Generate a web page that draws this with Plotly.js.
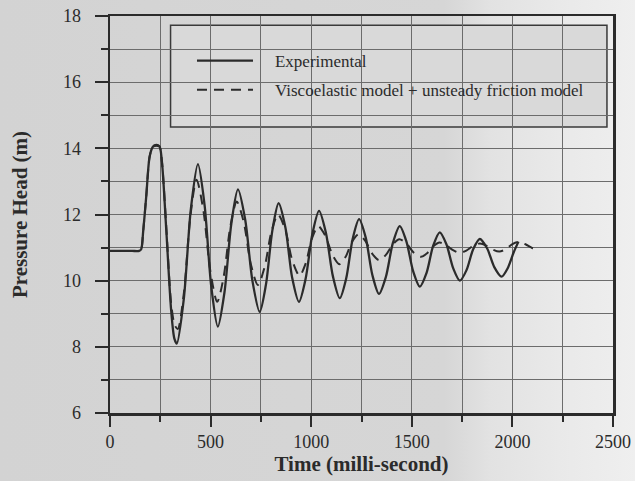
<!DOCTYPE html>
<html>
<head>
<meta charset="utf-8">
<script src="https://cdn.plot.ly/plotly-3.0.1.min.js"></script>
<style>
  html, body { margin:0; padding:0; }
  body { width:635px; height:481px; overflow:hidden;
    background: linear-gradient(to right, #d3d3d3 0%, #d6d6d6 70%, #e2e2e2 77%, #e9e9e9 88%, #efefef 100%); }
  #chart { width:635px; height:481px; }
</style>
</head>
<body>
<div id="chart"></div>
<script>
// Experimental measurement (time in ms, pressure head in m)
var timeExp = [0,60,110,145,155,165,180,197,213,230,246,258,280,304,320,332,
  367,402,437, 470,503,536, 569,603,636, 672,708,744, 775,807,838,
  872,905,939, 972,1006,1039, 1073,1108,1142, 1174,1206,1238,
  1271,1304,1337, 1371,1406,1440, 1473,1507,1540, 1573,1606,1639,
  1672,1706,1739, 1772,1805,1838, 1874,1910,1946, 1976,2006,2030];
var headExp = [10.9,10.9,10.9,10.9,10.95,11.5,12.54,13.75,14.05,14.1,14.06,13.6,11.5,9.1,8.25,8.1,
  9.46,12.17,13.52, 12.29,9.84,8.61, 9.65,11.72,12.76, 11.84,9.99,9.06, 9.88,11.52,12.34,
  11.6,10.1,9.36, 10.05,11.42,12.11, 11.45,10.13,9.47, 10.07,11.26,11.86,
  11.3,10.17,9.6, 10.11,11.14,11.65, 11.19,10.28,9.82, 10.23,11.05,11.46,
  11.1,10.37,10.0, 10.32,10.95,11.26, 10.98,10.41,10.12, 10.37,10.85,11.18];

// Viscoelastic model + unsteady friction model
var timeModel = [0,60,110,145,155,165,180,197,213,230,246,258,280,304,322,337,
  368,399,430, 464,499,533, 565,598,630, 665,700,735, 768,802,835,
  871,906,942, 973,1004,1035, 1070,1105,1140, 1172,1203,1235,
  1269,1303,1337, 1371,1405,1438, 1474,1509,1545, 1576,1607,1638,
  1671,1705,1738, 1771,1805,1838, 1870,1903,1935, 1967,1998,2030,
  2065,2100,2135];
var headModel = [10.9,10.9,10.9,10.9,10.95,11.5,12.54,13.75,14.05,14.08,14.05,13.6,11.6,9.3,8.65,8.54,
  9.67,11.92,13.05, 12.13,10.28,9.36, 10.12,11.63,12.39, 11.76,10.5,9.87, 10.4,11.47,12.0,
  11.54,10.61,10.15, 10.53,11.28,11.65, 11.36,10.79,10.5, 10.73,11.18,11.4,
  11.2,10.82,10.62, 10.78,11.09,11.25, 11.12,10.85,10.72, 10.83,11.04,11.15,
  11.07,10.92,10.84, 10.91,11.05,11.12, 11.06,10.94,10.88, 10.95,11.1,11.17,
  11.1,10.98,10.92];

var seriesNames = ['Experimental', 'Viscoelastic model + unsteady friction model'];
var xTitle = 'Time (milli-second)';
var yTitle = 'Pressure Head (m)';

var ink = '#2b2b2b';
var gridC = '#6c6c6c';
var serif = 'Liberation Serif, Times New Roman, serif';
var pad = '\u00a0\u00a0\u00a0\u00a0';

var traces = [
  { x: timeExp, y: headExp, name: pad + seriesNames[0], mode: 'lines', legendgroup: 'a',
    line: { color: ink, width: 2.3, shape: 'spline', smoothing: 0.8 } },
  { x: timeModel, y: headModel, name: pad + seriesNames[1], mode: 'lines', legendgroup: 'b',
    line: { color: ink, width: 2, dash: '10px,7px', shape: 'spline', smoothing: 0.8 } }
];

var layout = {
  width: 635, height: 481,
  margin: { l: 110, r: 22, t: 16, b: 68 },
  paper_bgcolor: 'rgba(0,0,0,0)', plot_bgcolor: 'rgba(0,0,0,0)',
  font: { family: serif, color: ink },
  showlegend: true,
  legend: { x: 0.163, y: 0.932, xanchor: 'left', yanchor: 'top',
    bgcolor: 'rgba(0,0,0,0)', borderwidth: 0, font: { size: 17, family: serif, color: ink },
    itemwidth: 56, tracegroupgap: 4 },
  xaxis: {
    range: [0, 2500], tick0: 0, dtick: 500,
    showgrid: true, gridcolor: gridC, gridwidth: 1, zeroline: false,
    ticks: 'outside', ticklen: 11, tickwidth: 2, tickcolor: ink,
    showline: true, linewidth: 2.5, linecolor: ink, mirror: true,
    tickfont: { size: 18, family: serif, color: ink },
    minor: { dtick: 250, showgrid: true, gridcolor: gridC, gridwidth: 1,
      ticks: 'outside', ticklen: 6, tickwidth: 2, tickcolor: ink },
    title: { text: xTitle, font: { size: 21, family: serif, weight: 'bold', color: ink }, standoff: 4 }
  },
  yaxis: {
    range: [6, 18], tick0: 6, dtick: 2,
    showgrid: true, gridcolor: gridC, gridwidth: 1, zeroline: false,
    ticks: 'outside', ticklen: 13, tickwidth: 2, tickcolor: ink,
    showline: true, linewidth: 2.5, linecolor: ink, mirror: true,
    tickfont: { size: 18, family: serif, color: ink },
    ticklabelstandoff: 10,
    minor: { dtick: 1, showgrid: true, gridcolor: gridC, gridwidth: 1,
      ticks: 'outside', ticklen: 7, tickwidth: 2, tickcolor: ink },
    title: { text: yTitle, font: { size: 21, family: serif, weight: 'bold', color: ink }, standoff: 30 }
  },
  shapes: [
    { type: 'rect', xref: 'paper', yref: 'paper', layer: 'between',
      x0: 0.1204, x1: 0.988, y0: 0.7204, y1: 0.977,
      fillcolor: '#d9d9d9', line: { color: '#3a3a3a', width: 1.5 } }
  ]
};

Plotly.newPlot('chart', traces, layout, { displayModeBar: false, staticPlot: true });
</script>
</body>
</html>
